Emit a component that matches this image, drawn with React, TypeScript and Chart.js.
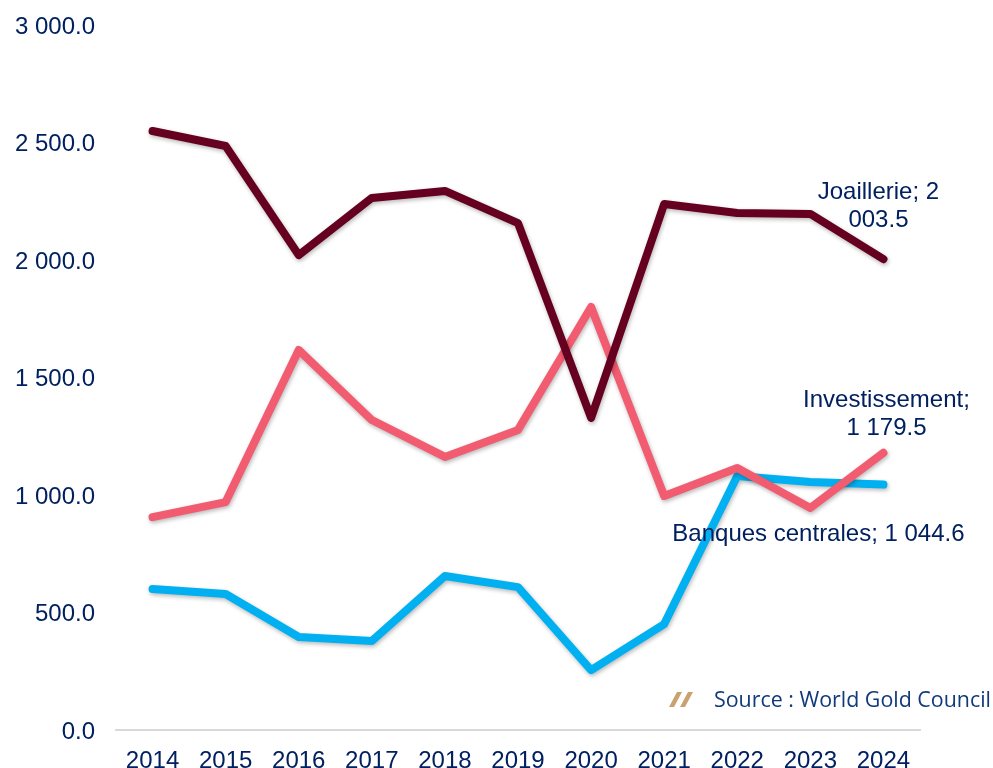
import React, { useEffect, useRef } from "react";
import { Chart, registerables } from "chart.js";

Chart.register(...registerables);

const years = ["2014", "2015", "2016", "2017", "2018", "2019", "2020", "2021", "2022", "2023", "2024"];
const joaillerie = [2549, 2485, 2021, 2264, 2294, 2157, 1328, 2238, 2200, 2196, 2003.5];
const investissement = [906, 970, 1617, 1319, 1162, 1277, 1800, 996, 1115, 945, 1179.5];
const banquesCentrales = [600, 579, 396, 379, 655, 608, 255, 451, 1081, 1055, 1044.6];

const NAVY = "#002060";
const FONT = "'Liberation Sans', Arial, sans-serif";

const formatValue = (v: number) => {
  const [whole, dec] = v.toFixed(1).split(".");
  return `${whole.replace(/\B(?=(\d{3})+$)/g, " ")}.${dec}`;
};

// Label text and placement for the last point of each series.
const endLabels = [
  { dataset: 0, lines: ["Joaillerie; 2", "003.5"], dx: -5, dy: -67, lineHeight: 28 },
  { dataset: 1, lines: ["Investissement;", formatValue(1179.5)], dx: 3, dy: -52, lineHeight: 28 },
  { dataset: 2, lines: [`Banques centrales; ${formatValue(1044.6)}`], dx: -65, dy: 50, lineHeight: 28 },
];

const lineShadow = {
  id: "lineShadow",
  beforeDatasetDraw(chart: Chart) {
    const { ctx } = chart;
    ctx.save();
    ctx.shadowColor = "rgba(0,0,0,0.28)";
    ctx.shadowBlur = 4;
    ctx.shadowOffsetX = 1;
    ctx.shadowOffsetY = 2;
  },
  afterDatasetDraw(chart: Chart) {
    chart.ctx.restore();
  },
};

// Nudges the value-axis labels down so they sit optically centred on their ticks.
const valueLabelNudge = {
  id: "valueLabelNudge",
  afterLayout(chart: Chart) {
    for (const item of (chart.scales.y as any).getLabelItems()) {
      item.options.translation[1] += 2;
    }
  },
};

const annotations = {
  id: "annotations",
  afterDraw(chart: Chart) {
    const { ctx } = chart;
    ctx.save();
    ctx.fillStyle = NAVY;
    ctx.font = `24px ${FONT}`;
    ctx.textAlign = "center";
    ctx.textBaseline = "middle";
    for (const label of endLabels) {
      const meta = chart.getDatasetMeta(label.dataset);
      const pt = meta.data[meta.data.length - 1];
      label.lines.forEach((text, i) => {
        ctx.fillText(text, pt.x + label.dx, pt.y + label.dy + i * label.lineHeight);
      });
    }
    // Source note with its two slanted strokes
    ctx.fillStyle = "#C9A26F";
    for (const x0 of [669, 680]) {
      ctx.beginPath();
      ctx.moveTo(x0, 707);
      ctx.lineTo(x0 + 5, 707);
      ctx.lineTo(x0 + 13, 692);
      ctx.lineTo(x0 + 8, 692);
      ctx.closePath();
      ctx.fill();
    }
    ctx.fillStyle = "#103A7A";
    ctx.font = "21.4px 'Open Sans', sans-serif";
    ctx.textAlign = "left";
    ctx.fillText("Source : World Gold Council", 714, 701);
    ctx.restore();
  },
};

export default function App() {
  const ref = useRef<HTMLCanvasElement>(null);

  useEffect(() => {
    const series = (data: number[], color: string) => ({
      data,
      borderColor: color,
      backgroundColor: color,
      borderWidth: 8,
      borderCapStyle: "round" as const,
      borderJoinStyle: "round" as const,
      pointRadius: 0,
      tension: 0,
      clip: false as const,
    });
    const chart = new Chart(ref.current!, {
      type: "line",
      data: {
        labels: years,
        datasets: [
          { label: "Joaillerie", ...series(joaillerie, "#650021") },
          { label: "Investissement", ...series(investissement, "#F25C70") },
          { label: "Banques centrales", ...series(banquesCentrales, "#00B0F0") },
        ],
      },
      options: {
        animation: false,
        responsive: false,
        layout: { padding: { top: 25, right: 73, bottom: 0, left: 0 } },
        plugins: { legend: { display: false }, tooltip: { enabled: false } },
        scales: {
          x: {
            offset: true,
            grid: { display: false, drawTicks: false },
            border: { color: "#D9D9D9", width: 2 },
            afterFit(scale) {
              scale.height = 38;
            },
            ticks: {
              color: NAVY,
              font: { family: FONT, size: 24 },
              padding: 17,
              maxRotation: 0,
              autoSkip: false,
            },
          },
          y: {
            min: 0,
            max: 3000,
            grid: { display: false, drawTicks: false },
            border: { display: false },
            afterFit(scale) {
              // Fixed gutter, and no extra room reserved for the end tick labels
              scale.width = 116;
              scale.paddingTop = 0;
              scale.paddingBottom = 0;
            },
            ticks: {
              stepSize: 500,
              color: NAVY,
              padding: 21,
              font: { family: FONT, size: 24 },
              callback: (v) => formatValue(Number(v)),
            },
          },
        },
      },
      plugins: [lineShadow, valueLabelNudge, annotations],
    });
    return () => chart.destroy();
  }, []);

  return (
    <canvas
      ref={ref}
      width={993}
      height={768}
      style={{ position: "absolute", left: 0, top: 0, display: "block" }}
    />
  );
}
